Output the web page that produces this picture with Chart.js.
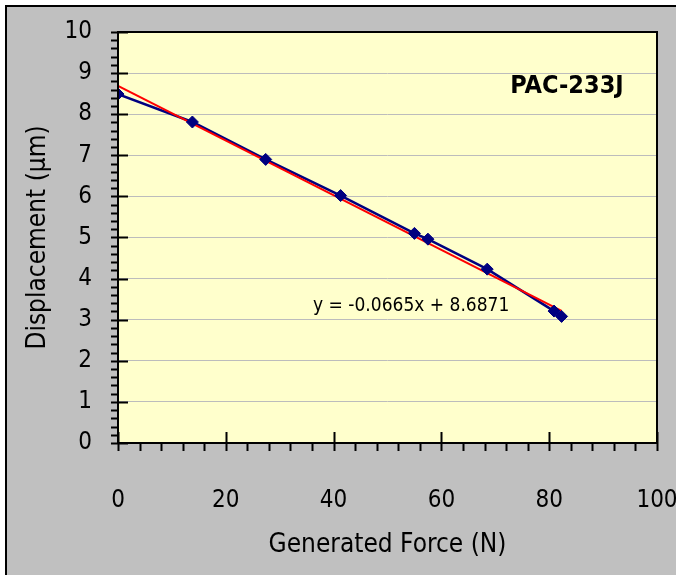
<!DOCTYPE html>
<html>
<head>
<meta charset="utf-8">
<script src="https://cdn.jsdelivr.net/npm/chart.js@4/dist/chart.umd.min.js"></script>
<style>
 html,body{margin:0;padding:0;background:#fff;}
 #wrap{width:676px;height:575px;}
</style>
</head>
<body>
<div id="wrap"><canvas id="chart" width="676" height="575"></canvas></div>
<script>
// measured points (force N, displacement um)
const force=[0,13.8,27.4,41.3,55.0,57.5,68.5,80.9,82.3];
const displacement=[8.49,7.81,6.90,6.02,5.10,4.96,4.23,3.21,3.08];

// linear trendline as printed on the chart
const slope=-0.0665;
const intercept=8.6871;
const trendX=[0,82.3];

const xTicks=[0,20,40,60,80,100];
const yTicks=[0,1,2,3,4,5,6,7,8,9,10];

const modelName="PAC-233J";
const equation="y = -0.0665x + 8.6871";

const FONT="'Liberation Sans Narrow','Arial Narrow','DejaVu Sans Condensed',sans-serif";

const pts=force.map((x,i)=>({x,y:displacement[i]}));
const trend=trendX.map(x=>({x,y:intercept+slope*x}));

function noPad(s){
 s.paddingTop=0;s.paddingBottom=0;s.paddingLeft=0;s.paddingRight=0;
}

const frame={
 id:"frame",
 beforeDraw(c){
  const ctx=c.ctx,a=c.chartArea;
  ctx.save();
  ctx.fillStyle="#fff";
  ctx.fillRect(0,0,c.width,c.height);
  ctx.fillStyle="#c0c0c0";
  ctx.fillRect(5,5,c.width-5,c.height-5);
  ctx.fillStyle="#000";
  ctx.fillRect(5,5,2,c.height-5);
  ctx.fillRect(5,5,c.width-5,2);
  ctx.fillStyle="#ffffcc";
  ctx.fillRect(a.left,a.top,a.right-a.left,a.bottom-a.top);
  ctx.restore();
 },
 afterDraw(c){
  const ctx=c.ctx,a=c.chartArea;
  const xs=c.scales.x,ys=c.scales.y;
  ctx.save();
  ctx.strokeStyle="#000";
  ctx.lineWidth=2;
  ctx.strokeRect(a.left,a.top,a.right-a.left,a.bottom-a.top);
  ctx.beginPath();
  // y ticks, minor every 0.2
  for(let v=0;v<=10.001;v+=0.2){
   const p=Math.round(ys.getPixelForValue(v))+0.5;
   const major=Math.abs(v-Math.round(v))<0.01;
   ctx.moveTo(a.left-7,p);
   ctx.lineTo(major?a.left+10:a.left,p);
  }
  // x ticks, minor every 4
  for(let v=0;v<=100.001;v+=4){
   const p=Math.round(xs.getPixelForValue(v))+0.5;
   const major=Math.round(v)%20===0;
   ctx.moveTo(p,major?a.bottom-11:a.bottom);
   ctx.lineTo(p,a.bottom+8);
  }
  ctx.stroke();
  ctx.fillStyle="#000";
  ctx.font="bold 25px "+FONT;
  ctx.textAlign="center";
  ctx.textBaseline="middle";
  ctx.fillText(modelName,567,86);
  ctx.font="19px "+FONT;
  ctx.textAlign="left";
  ctx.fillText(equation,313,306);
  ctx.restore();
 }
};

new Chart(document.getElementById("chart"),{
 type:"scatter",
 data:{
  datasets:[
   {data:pts,showLine:true,borderColor:"#000080",borderWidth:2.5,pointRadius:0,order:3},
   {data:trend,showLine:true,borderColor:"#ff0000",borderWidth:2,pointRadius:0,order:2},
   {data:pts,showLine:false,pointStyle:"rectRot",pointRadius:6,
    backgroundColor:"#000080",borderColor:"#000080",order:1}
  ]
 },
 options:{
  responsive:false,
  animation:false,
  layout:{padding:{left:0,top:32,right:19,bottom:0}},
  plugins:{legend:{display:false},tooltip:{enabled:false}},
  scales:{
   x:{
    type:"linear",min:0,max:100,
    afterBuildTicks:s=>{s.ticks=xTicks.map(v=>({value:v}));},
    afterFit:s=>{s.height=132;noPad(s);},
    grid:{display:false},
    border:{display:false},
    ticks:{color:"#000",padding:35,font:{family:FONT,size:24},maxRotation:0},
    title:{display:true,text:"Generated Force (N)",color:"#000",
     font:{family:FONT,size:26},padding:{top:0,bottom:14}}
   },
   y:{
    min:0,max:10,
    afterBuildTicks:s=>{s.ticks=yTicks.map(v=>({value:v}));},
    afterFit:s=>{s.width=118;noPad(s);},
    grid:{color:"#bcbcbc",lineWidth:1,drawTicks:false},
    border:{display:false},
    ticks:{color:"#000",padding:26,font:{family:FONT,size:24}},
    title:{display:true,text:"Displacement (µm)",color:"#000",
     font:{family:FONT,size:26},padding:{top:23,bottom:0}}
   }
  }
 },
 plugins:[frame]
});
</script>
</body>
</html>
